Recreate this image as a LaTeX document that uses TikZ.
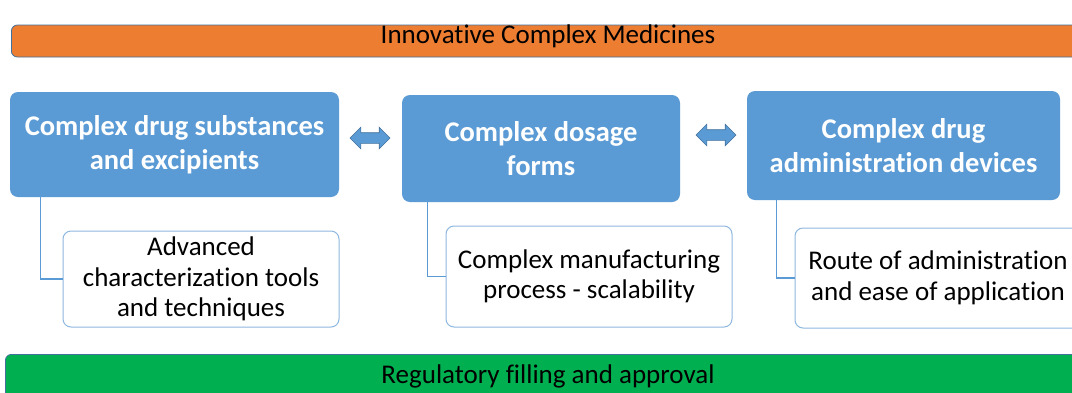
\documentclass[tikz,border=0pt]{standalone}
\usepackage{fontspec}
\setmainfont{Carlito}[Ligatures={NoCommon}]
\usetikzlibrary{shapes.arrows}
\definecolor{cblue}{HTML}{5B9BD5}
\definecolor{cdark}{HTML}{41719C}
\definecolor{corange}{HTML}{ED7D31}
\definecolor{cgreen}{HTML}{00B050}
\definecolor{cline}{HTML}{5B9BD5}
\definecolor{clight}{HTML}{8FB8E0}
\tikzset{
  bar/.style={draw=cdark, line width=0.8pt, rounded corners=6pt, inner sep=0pt},
  bartext/.style={inner sep=0pt, text=black, font=\fontsize{27}{30}\selectfont},
  bluebox/.style={fill=cblue, draw=none, rounded corners=8pt, inner sep=0pt, align=center,
    text=white, font=\fontsize{28.5}{34}\selectfont\bfseries},
  whitebox/.style={fill=white, draw=clight, line width=1pt, rounded corners=8pt, inner sep=0pt,
    align=center, text=black, font=\fontsize{27}{30.5}\selectfont},
  conn/.style={draw=cline, line width=1.2pt},
  dblarrow/.style={double arrow, fill=cblue, draw=cdark, line width=0.6pt,
    minimum height=40pt, double arrow head extend=5.5pt, inner sep=5pt}
}
\begin{document}
\begin{tikzpicture}[x=1pt,y=-1pt]
\clip (0,0) rectangle (1072,392);
\fill[white] (0,0) rectangle (1072,392);
% bars
\node[bar, fill=corange, minimum width=1074pt, minimum height=32pt, anchor=west] (top) at (11,41) {};
\node[bartext] (toptext) at (548,36) {Innovative Complex Medicines};
\node[bar, fill=cgreen, minimum width=1080pt, minimum height=46pt, anchor=north west] (bottom) at (5,354) {};
\node[bartext] (bottext) at (548,376) {Regulatory filling and approval};
% blue boxes
\node[bluebox, minimum width=329pt, minimum height=105pt] (b1) at (174.5,144.5) {Complex drug substances\\and excipients};
\node[bluebox, minimum width=278pt, minimum height=107pt] (b2) at (541,148.5) {Complex dosage\\forms};
\node[bluebox, minimum width=313pt, minimum height=109pt] (b3) at (903.5,145.5) {Complex drug\\administration devices};
% arrows
\node[dblarrow] (a1) at (370,138) {};
\node[dblarrow] (a2) at (716,135) {};
% white boxes
\node[whitebox, minimum width=276pt, minimum height=96pt] (w1) at (201,279) {Advanced\\characterization tools\\and techniques};
\node[whitebox, minimum width=286pt, minimum height=101pt] (w2) at (589,276.5) {Complex manufacturing\\process - scalability};
\node[whitebox, minimum width=286pt, minimum height=100pt] (w3) at (938,278) {Route of administration\\and ease of application};
% connectors
\draw[conn] ([xshift=31pt]b1.south west) |- (w1.west);
\draw[conn] ([xshift=26pt]b2.south west) |- (w2.west);
\draw[conn] ([xshift=30pt]b3.south west) |- (w3.west);
\end{tikzpicture}
\end{document}
